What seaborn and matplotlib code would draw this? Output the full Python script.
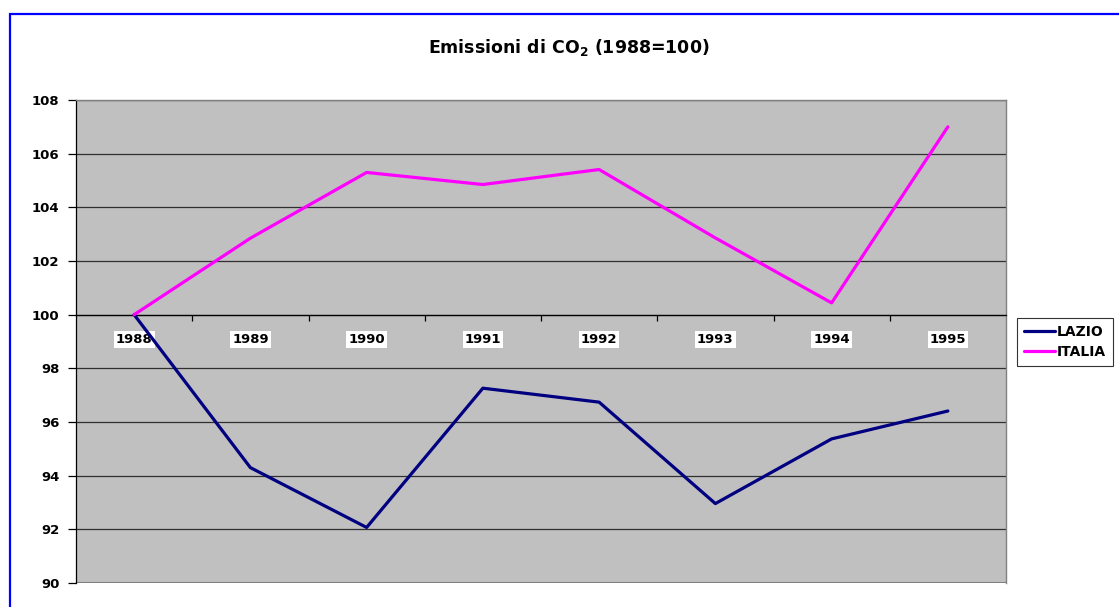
import matplotlib
matplotlib.use("Agg")
import matplotlib.pyplot as plt
from matplotlib.patches import Rectangle
import seaborn as sns
import pandas as pd

years = ["1988", "1989", "1990", "1991", "1992", "1993", "1994", "1995"]
lazio = [100, 94.3, 92.07, 97.26, 96.74, 92.96, 95.37, 96.41]
italia = [100, 102.85, 105.3, 104.85, 105.41, 102.86, 100.44, 107.0]
series_names = ["LAZIO", "ITALIA"]
colors = ["#000080", "#FF00FF"]
y_ticks = [90, 92, 94, 96, 98, 100, 102, 104, 106, 108]
title_text = r"Emissioni di CO$_\mathbf{2}$ (1988=100)"

sns.set_style("white")
plt.rcParams["font.family"] = ["DejaVu Sans"]
plt.rcParams["font.weight"] = "bold"
plt.rcParams["text.color"] = "black"
plt.rcParams["xtick.color"] = "black"
plt.rcParams["ytick.color"] = "black"
plt.rcParams["axes.labelcolor"] = "black"
plt.rcParams["mathtext.fontset"] = "custom"
plt.rcParams["mathtext.rm"] = "DejaVu Sans:bold"
plt.rcParams["mathtext.bf"] = "DejaVu Sans:bold"

df = pd.DataFrame({
    "x": list(range(len(years))) * 2,
    "value": lazio + italia,
    "serie": [series_names[0]] * len(years) + [series_names[1]] * len(years),
})

W, H = 1119, 607
fig = plt.figure(figsize=(W / 100, H / 100), dpi=100)
ax = fig.add_axes([76 / W, 1 - 583 / H, (1006 - 76) / W, (583 - 100) / H])
ax.set_facecolor("#C0C0C0")

sns.lineplot(data=df, x="x", y="value", hue="serie", palette=colors,
             hue_order=series_names, linewidth=2.3, ax=ax, legend=True,
             zorder=3)

ax.set_xlim(-0.5, len(years) - 0.5)
ax.set_ylim(90, 108)
ax.set_yticks(y_ticks)
ax.set_yticklabels([str(t) for t in y_ticks], fontsize=9.5, fontweight="bold",
                   color="black")
ax.yaxis.grid(True, color="#303030", linewidth=0.9)
ax.set_axisbelow(True)
ax.tick_params(axis="y", direction="out", length=6, width=0.9, pad=6, left=True,
               color="black", labelcolor="black")

# x axis crossing at 100
ax.spines["bottom"].set_position(("data", 100))
ax.spines["bottom"].set_color("black")
ax.spines["bottom"].set_linewidth(0.9)
ax.spines["left"].set_color("black")
ax.spines["left"].set_linewidth(0.9)
for s in ["top", "right"]:
    ax.spines[s].set_visible(True)
    ax.spines[s].set_color("#808080")
    ax.spines[s].set_linewidth(1.0)
ax.axhline(90, color="#808080", linewidth=1.5, zorder=2)

ax.set_xticks([i + 0.5 for i in range(len(years) - 1)])
ax.set_xticklabels([])
ax.tick_params(axis="x", which="major", direction="out", length=4.5, width=0.9,
               bottom=True, color="black")
ax.set_xticks(range(len(years)), minor=True)
ax.set_xticklabels(years, minor=True, fontsize=9.5, fontweight="bold",
                   color="black")
ax.tick_params(axis="x", which="minor", length=0, pad=13, bottom=True,
               labelcolor="black")
for lbl in ax.get_xticklabels(minor=True):
    lbl.set_bbox(dict(facecolor="white", edgecolor="none", pad=1.5))

ax.set_xlabel("")
ax.set_ylabel("")

leg = ax.legend(loc="upper left", bbox_to_anchor=(1017 / W, 1 - 318 / H),
                bbox_transform=fig.transFigure, borderaxespad=0,
                frameon=True, fancybox=False, edgecolor="black",
                prop={"weight": "bold", "size": 10}, handlelength=2.2,
                handletextpad=0.15, borderpad=0.5, labelspacing=0.45)
leg.get_frame().set_linewidth(0.8)
for t in leg.get_texts():
    t.set_color("black")
for h in leg.get_lines():
    h.set_linewidth(2.3)

fig.text(569 / W, 1 - 47 / H, title_text, ha="center", va="center",
         fontsize=12.5, fontweight="bold", color="black")

fig.add_artist(Rectangle((9.5 / W, -0.1), 2.0, 1.1 - 13.5 / H,
                         transform=fig.transFigure, fill=False,
                         edgecolor="#0000FF", linewidth=1.6, clip_on=False))

fig.savefig("out.png", dpi=100)
